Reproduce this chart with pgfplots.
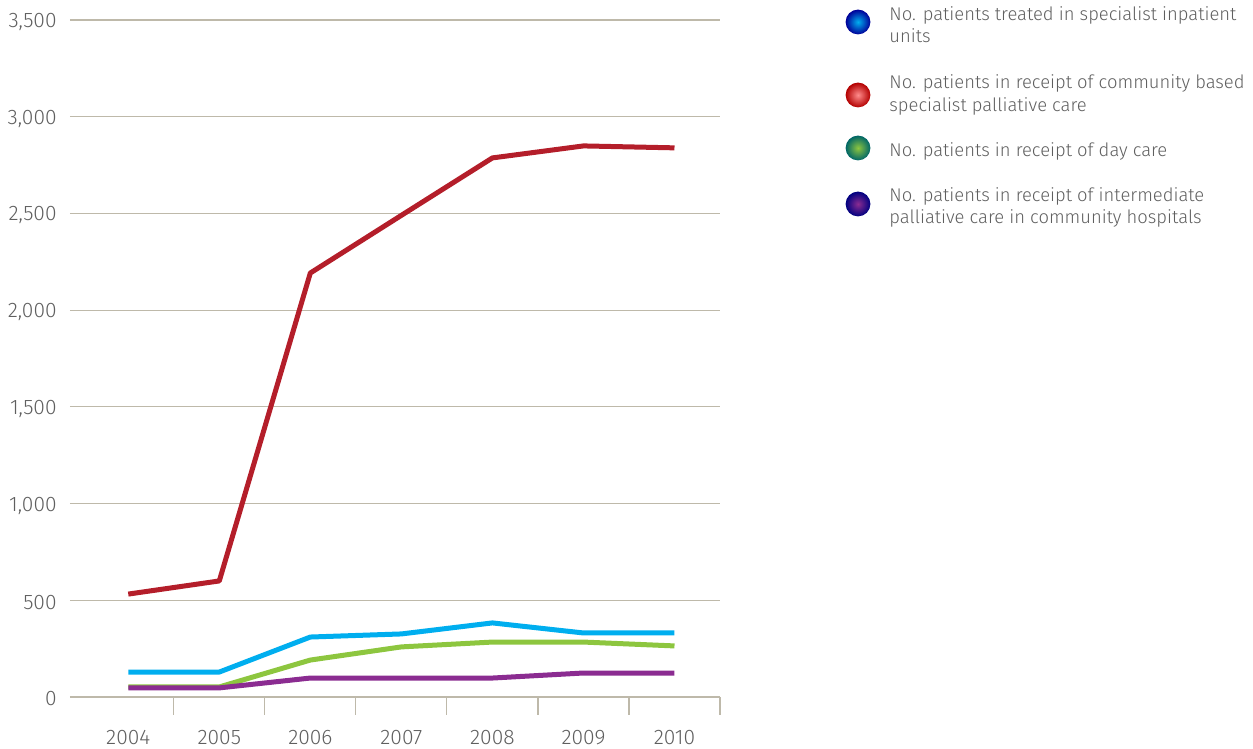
\documentclass[border=0pt]{standalone}
\usepackage{pgfplots}
\pgfplotsset{compat=1.18}
\usepackage{fontspec}
\setmainfont{Fira Sans Light}
\definecolor{cred}{RGB}{180,30,42}
\definecolor{cblue}{RGB}{0,174,239}
\definecolor{cgreen}{RGB}{141,198,63}
\definecolor{cpurple}{RGB}{139,44,145}
\definecolor{cgrid}{RGB}{190,185,170}
\definecolor{ctext}{RGB}{95,95,95}
\begin{document}
\begin{tikzpicture}
\useasboundingbox (0,0) rectangle (626.5pt,374.5pt);
\begin{axis}[
  at={(35pt,26pt)}, anchor=south west,
  scale only axis, width=325pt, height=338.5pt,
  xmin=-0.64, xmax=6.5, ymin=0, ymax=3500,
  xtick={0,1,2,3,4,5,6},
  xticklabels={2004,2005,2006,2007,2008,2009,2010},
  minor xtick={0.5,1.5,2.5,3.5,4.5,5.5,6.5},
  ytick={0,500,1000,1500,2000,2500,3000,3500},
  ymajorgrids, grid style={cgrid, line width=0.6pt},
  axis line style={draw=none},
  major tick length=0pt, minor tick length=9pt,
  tick align=outside,
  minor tick style={cgrid, line width=0.6pt},
  xtick pos=bottom, ytick pos=left,
  /pgf/number format/assume math mode=true,
  /pgf/number format/1000 sep={,},
  tick label style={font=\fontsize{10.5}{12}\selectfont, text=ctext},
  yticklabel style={anchor=east, inner sep=0pt, xshift=-6.5pt, yshift=-1pt},
  xticklabel style={anchor=north, inner sep=0pt, yshift=-16.5pt},
  clip=false,
  line join=round,
]
\addplot[cred, line width=2.5pt] coordinates {(0,532) (1,600) (2,2192) (3,2490) (4,2787) (5,2849) (6,2839)};
\addplot[cblue, line width=2.5pt] coordinates {(0,129) (1,129) (2,310) (3,326) (4,383) (5,331) (6,331)};
\addplot[cgreen, line width=2.5pt] coordinates {(0,52) (1,52) (2,191) (3,259) (4,284) (5,284) (6,264)};
\addplot[cpurple, line width=2.5pt] coordinates {(0,47) (1,47) (2,98) (3,98) (4,98) (5,124) (6,124)};
\end{axis}
% legend
\begin{scope}[every node/.style={anchor=base west, inner sep=0pt, text=ctext, font=\fontsize{9.2}{11}\selectfont}]
\shade[inner color=cblue, outer color=blue!60!black] (429pt,363.5pt) circle (6.2pt);
\shade[inner color=red!45!white, outer color=red!70!black] (429pt,327pt) circle (6.2pt);
\shade[inner color=cgreen, outer color=teal!80!black] (429pt,300.5pt) circle (6.2pt);
\shade[inner color=cpurple, outer color=blue!50!black] (429pt,272.5pt) circle (6.2pt);
\node at (444.5pt,364pt) {No. patients treated in specialist inpatient};
\node at (444.5pt,353pt) {units};
\node at (444.5pt,330pt) {No. patients in receipt of community based};
\node at (444.5pt,318.5pt) {specialist palliative care};
\node at (444.5pt,296pt) {No. patients in receipt of day care};
\node at (444.5pt,273.5pt) {No. patients in receipt of intermediate};
\node at (444.5pt,262.5pt) {palliative care in community hospitals};
\end{scope}
\end{tikzpicture}
\end{document}
